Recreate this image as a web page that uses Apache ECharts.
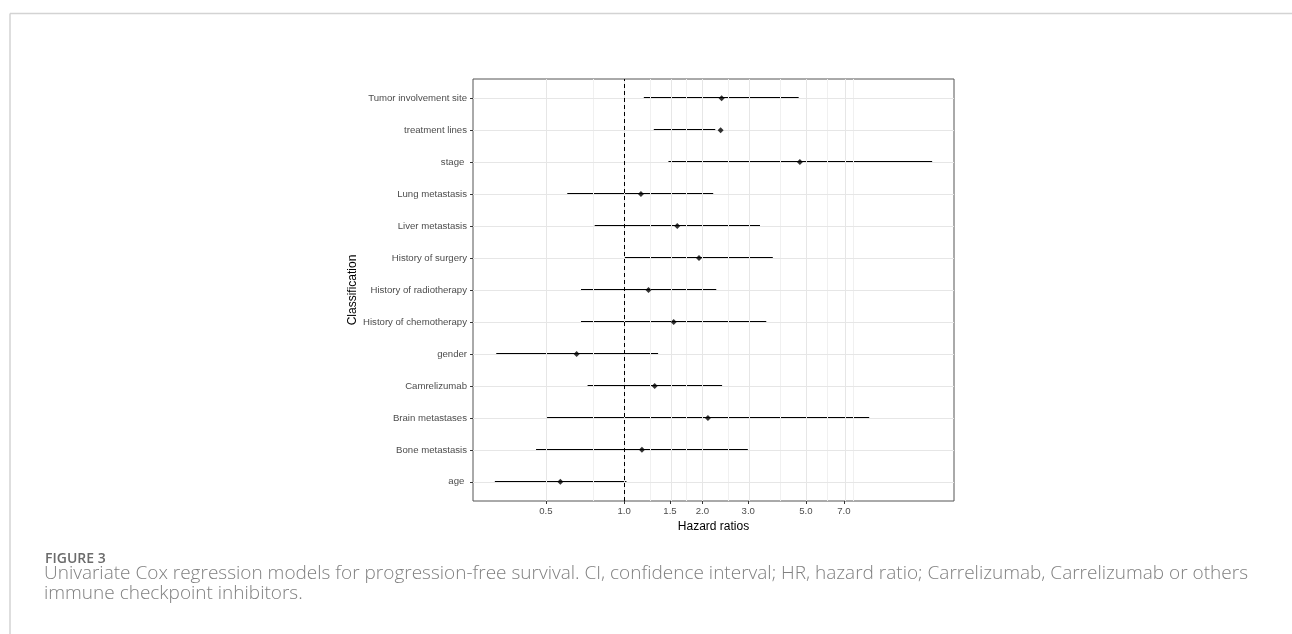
<!DOCTYPE html>
<html>
<head>
<meta charset="utf-8">
<script src="https://cdn.jsdelivr.net/npm/echarts@6/dist/echarts.min.js"></script>
<style>
  html, body { margin: 0; padding: 0; background: #fff; }
  #main { width: 1292px; height: 634px; }
</style>
</head>
<body>
<div id="main"></div>
<script>
// rows from bottom (index 0) to top
var categories = ['age ', 'Bone metastasis', 'Brain metastases', 'Camrelizumab', 'gender',
  'History of chemotherapy', 'History of radiotherapy', 'History of surgery', 'Liver metastasis',
  'Lung metastasis', 'stage ', 'treatment lines', 'Tumor involvement site'];
var hr    = [0.568, 1.17, 2.10, 1.31, 0.656, 1.55, 1.24, 1.94, 1.60, 1.16, 4.74, 2.35, 2.37];
var lower = [0.318, 0.458, 0.505, 0.723, 0.322, 0.682, 0.682, 1.006, 0.770, 0.604, 1.48, 1.30, 1.19];
var upper = [1.02, 2.99, 8.76, 2.38, 1.35, 3.52, 2.26, 3.73, 3.33, 2.20, 15.3, 2.24, 4.69];

var majorBreaks = [0.5, 1.0, 1.5, 2.0, 3.0, 5.0, 7.0];
var minorBreaks = [0.75, 1.25, 1.75, 2.5, 4, 6, 7.5];
var refValue = 1;

var log10 = Math.log10;
var lo = log10(Math.min.apply(null, lower));
var hi = log10(Math.max.apply(null, upper));
var pad = (hi - lo) * 0.05;

var rowIdx = categories.map(function (c, i) { return i; });

var chart = echarts.init(document.getElementById('main'));

var tickFont = { color: '#4d4d4d', fontSize: 9.6, fontFamily: 'Liberation Sans, Arial, sans-serif' };

var option = {
  animation: false,
  backgroundColor: '#fff',
  title: [
    {
      text: 'FIGURE 3',
      left: 40, top: 547,
      textStyle: { fontFamily: 'Open Sans, sans-serif', fontSize: 14, fontWeight: 600, color: '#6b6b6b' }
    },
    {
      text: 'Univariate Cox regression models for progression-free survival. CI, confidence interval; HR, hazard ratio; Carrelizumab, Carrelizumab or others\nimmune checkpoint inhibitors.',
      left: 39, top: 558,
      textStyle: { fontFamily: 'Open Sans, sans-serif', fontSize: 19, fontWeight: 300, color: '#808080', lineHeight: 20.5 }
    }
  ],
  graphic: [
    { type: 'line', shape: { x1: 10, y1: 13.5, x2: 1292, y2: 13.5 }, style: { stroke: '#d3d3d3', lineWidth: 1.5 } },
    { type: 'line', shape: { x1: 10, y1: 13.5, x2: 10, y2: 634 }, style: { stroke: '#d3d3d3', lineWidth: 1.5 } }
  ],
  grid: {
    left: 473, top: 79, width: 481, height: 422,
    show: true, borderColor: '#555', borderWidth: 1, backgroundColor: 'transparent'
  },
  xAxis: {
    type: 'value',
    min: lo - pad,
    max: hi + pad,
    name: 'Hazard ratios',
    nameLocation: 'middle',
    nameGap: 13,
    nameTextStyle: { color: '#000', fontSize: 12, fontFamily: 'Liberation Sans, Arial, sans-serif' },
    axisLine: { show: false, onZero: false },
    splitLine: { show: false },
    axisTick: { show: true, length: 3, lineStyle: { color: '#333' }, customValues: majorBreaks.map(log10) },
    axisLabel: Object.assign({
      margin: 5,
      customValues: majorBreaks.map(log10),
      formatter: function (v) { return Math.pow(10, v).toFixed(1); }
    }, tickFont)
  },
  yAxis: {
    type: 'value',
    min: -0.6,
    max: categories.length - 1 + 0.6,
    name: 'Classification',
    nameLocation: 'middle',
    nameRotate: 90,
    nameGap: 110,
    nameTextStyle: { color: '#000', fontSize: 12, fontFamily: 'Liberation Sans, Arial, sans-serif' },
    axisLine: { show: false, onZero: false },
    splitLine: { show: false },
    axisTick: { show: true, length: 3, lineStyle: { color: '#333' }, customValues: rowIdx },
    axisLabel: Object.assign({
      margin: 6,
      customValues: rowIdx,
      formatter: function (v) { return categories[Math.round(v)]; }
    }, tickFont)
  },
  series: [
    {
      type: 'line', data: [], z: 1, silent: true,
      markLine: {
        silent: true, symbol: ['none', 'none'], label: { show: false },
        lineStyle: { color: '#f0f0f0', width: 1, type: 'solid' },
        data: minorBreaks.map(function (v) { return { xAxis: log10(v) }; })
      }
    },
    {
      type: 'line', data: [], z: 2, silent: true,
      markLine: {
        silent: true, symbol: ['none', 'none'], label: { show: false },
        lineStyle: { color: '#e6e6e6', width: 1, type: 'solid' },
        data: majorBreaks.map(function (v) { return { xAxis: log10(v) }; })
          .concat(rowIdx.map(function (i) { return { yAxis: i }; }))
      }
    },
    {
      type: 'line', data: [], z: 3, silent: true,
      markLine: {
        silent: true, symbol: ['none', 'none'], label: { show: false },
        lineStyle: { color: '#000', width: 1, type: [4, 3] },
        data: [{ xAxis: log10(refValue) }]
      }
    },
    {
      type: 'custom', z: 4,
      encode: { x: [0, 1], y: 2 },
      data: rowIdx.map(function (i) { return [log10(lower[i]), log10(upper[i]), i]; }),
      renderItem: function (params, api) {
        var a = api.coord([api.value(0), api.value(2)]);
        var b = api.coord([api.value(1), api.value(2)]);
        var y = Math.round(a[1]);
        return {
          type: 'line',
          shape: { x1: a[0], y1: y, x2: b[0], y2: y },
          style: { stroke: '#000', lineWidth: 2, fill: null }
        };
      }
    },
    {
      type: 'scatter', z: 5,
      symbol: 'diamond', symbolSize: 6,
      itemStyle: { color: '#000' },
      data: rowIdx.map(function (i) { return [log10(hr[i]), i]; })
    }
  ]
};

chart.setOption(option);
</script>
</body>
</html>
